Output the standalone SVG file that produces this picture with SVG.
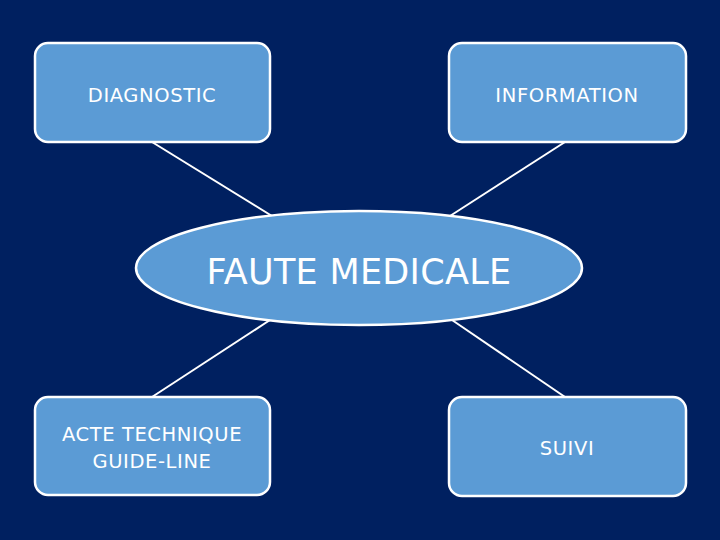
<svg xmlns="http://www.w3.org/2000/svg" width="720" height="540" viewBox="0 0 720 540">
<style>
.box{fill:#5B9BD5;stroke:#FFFFFF;stroke-width:2.5}
.lbl{fill:#FFFFFF;font-family:"DejaVu Sans","Liberation Sans",sans-serif;font-size:19.5px;letter-spacing:0.6px;text-anchor:middle}
.big{fill:#FFFFFF;font-family:"DejaVu Sans","Liberation Sans",sans-serif;font-size:35px;letter-spacing:0.3px;text-anchor:middle}
.conn{stroke:#FFFFFF;stroke-width:2;fill:none}
</style>
<rect x="0" y="0" width="720" height="540" fill="#002060"/>
<g id="connectors">
<line class="conn" x1="152" y1="142" x2="272" y2="216"/>
<line class="conn" x1="565" y1="142" x2="450" y2="216"/>
<line class="conn" x1="270" y1="320" x2="152" y2="397"/>
<line class="conn" x1="452" y1="320" x2="565" y2="397"/>
</g>
<g id="diagnostic">
<rect class="box" x="35" y="43" width="235" height="99" rx="13"/>
<text class="lbl" x="152" y="102">DIAGNOSTIC</text>
</g>
<g id="information">
<rect class="box" x="449" y="43" width="237" height="99" rx="13"/>
<text class="lbl" x="567" y="102">INFORMATION</text>
</g>
<g id="faute">
<ellipse class="box" cx="359" cy="268" rx="223" ry="57"/>
<text class="big" x="359" y="284">FAUTE MEDICALE</text>
</g>
<g id="acte">
<rect class="box" x="35" y="397" width="235" height="98" rx="13"/>
<text class="lbl" x="152" y="441">ACTE TECHNIQUE</text>
<text class="lbl" x="152" y="468">GUIDE-LINE</text>
</g>
<g id="suivi">
<rect class="box" x="449" y="397" width="237" height="99" rx="13"/>
<text class="lbl" x="567" y="455">SUIVI</text>
</g>
</svg>
